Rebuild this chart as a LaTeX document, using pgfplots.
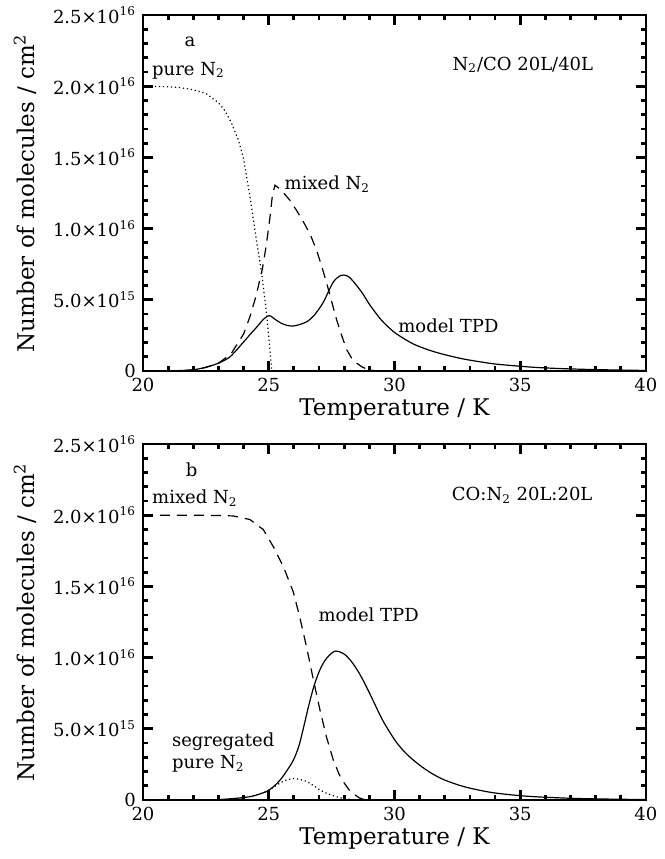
\documentclass[border=0pt]{standalone}
\usepackage{fontspec}
\setmainfont{DejaVu Serif}
\usepackage{pgfplots}
\pgfplotsset{compat=1.18}

% shared look of both panels (1 px of the reference = 0.5pt)
\pgfplotsset{
  tpd/.style={
    scale only axis, width=251.5pt, height=178pt,
    xmin=20, xmax=40, ymin=0, ymax=2.5,
    xtick={20,25,30,35,40}, xticklabels={20,25,30,35,40},
    minor x tick num=4,
    ytick={0,0.5,1,1.5,2,2.5},
    yticklabels={0,5.0×10\textsuperscript{15},1.0×10\textsuperscript{16},1.5×10\textsuperscript{16},2.0×10\textsuperscript{16},2.5×10\textsuperscript{16}},
    minor y tick num=4,
    axis line style={line width=0.8pt},
    tick label style={font=\fontsize{9}{11}\selectfont},
    xlabel={Temperature / K},
    ylabel={Number of molecules / cm\textsuperscript{2}},
    every axis x label/.style={at={(axis description cs:0.5,-0.058)}, anchor=north, font=\fontsize{11.5}{13}\selectfont},
    every axis y label/.style={at={(axis description cs:-0.2346,0.5)}, rotate=90, anchor=center, font=\fontsize{11.5}{13}\selectfont},
    every axis plot/.append style={black, line width=0.6pt, no marks},
  },
}
\tikzset{
  model/.style={solid},
  mixed/.style={dash pattern=on 5pt off 3.5pt},
  pure/.style={dash pattern=on 0.6pt off 1.4pt},
  note/.style={font=\fontsize{9}{11}\selectfont, inner sep=0pt},
}

\begin{document}
\begin{tikzpicture}

% ---- panel a ----
\begin{axis}[tpd, at={(0pt,0pt)}, anchor=south west,
  major tick length=5pt, minor tick length=2.5pt,
  every tick/.append style={black, line width=1.4pt}]
\addplot[pure] coordinates {
(20,2.000) (21,1.997) (21.5,1.99) (22,1.975) (22.5,1.95) (23,1.885) (23.25,1.83)
(23.5,1.75) (23.8,1.62) (24,1.49) (24.25,1.23) (24.5,0.93) (24.72,0.69)
(24.92,0.39) (25.05,0.15) (25.12,0.0)};
\addplot[mixed] coordinates {
(21,0.0) (21.5,0.002) (22,0.008) (22.5,0.025) (23,0.055) (23.5,0.12) (24,0.26)
(24.25,0.38) (24.5,0.53) (24.75,0.72) (24.9,0.88) (25.05,1.08) (25.15,1.24)
(25.25,1.305) (25.5,1.27) (25.84,1.20) (26.1,1.13) (26.37,1.05) (26.65,0.96)
(26.9,0.85) (27.1,0.74) (27.3,0.62) (27.5,0.49) (27.7,0.36) (27.9,0.25)
(28.1,0.15) (28.3,0.09) (28.5,0.055) (28.7,0.03) (28.9,0.014) (29.2,0.003) (29.5,0.0)};
\addplot[model, smooth] coordinates {
(20,0.0) (21,0.001) (21.87,0.007) (22.3,0.018) (22.66,0.035) (23,0.055)
(23.46,0.10) (23.98,0.20) (24.25,0.255) (24.53,0.31) (24.8,0.365) (25.02,0.39)
(25.2,0.37) (25.45,0.34) (25.7,0.322) (25.95,0.316) (26.2,0.325) (26.51,0.346)
(26.8,0.39) (27.16,0.48) (27.55,0.62) (27.8,0.665) (27.99,0.674) (28.2,0.66)
(28.5,0.60) (28.75,0.54) (29.0,0.47) (29.42,0.37) (29.75,0.31) (30.09,0.26)
(30.75,0.19) (31.41,0.145) (32,0.115) (32.73,0.085) (33.4,0.065) (34.08,0.048)
(35.4,0.028) (36.5,0.018) (38,0.01) (40,0.004)};
\node[note, anchor=center] at (axis cs:21.87,2.31) {a};
\node[note, anchor=west] at (axis cs:20.35,2.11) {pure N\textsubscript{2}};
\node[note, anchor=west] at (axis cs:32.3,2.15) {N\textsubscript{2}/CO 20L/40L};
\node[note, anchor=west] at (axis cs:25.62,1.31) {mixed N\textsubscript{2}};
\node[note, anchor=west] at (axis cs:30.14,0.32) {model TPD};
\end{axis}

% ---- panel b ----
\begin{axis}[tpd, at={(0pt,-214.5pt)}, anchor=south west,
  major tick length=5pt, minor tick length=2.5pt,
  every tick/.append style={black, line width=1.4pt}]
\addplot[mixed] coordinates {
(20,2.0) (22,2.0) (23,1.998) (23.59,1.995) (24.25,1.97) (24.78,1.90) (25.18,1.78)
(25.58,1.64) (25.98,1.46) (26.24,1.28) (26.51,1.07) (26.77,0.85) (27.04,0.63)
(27.3,0.44) (27.57,0.28) (27.8,0.18) (27.96,0.13) (28.2,0.07) (28.36,0.045)
(28.6,0.015) (28.8,0.003) (29.0,0.0)};
\addplot[pure] coordinates {
(22,0.0) (23,0.003) (23.5,0.007) (24,0.015) (24.5,0.035) (24.92,0.06) (25.2,0.09)
(25.45,0.12) (25.7,0.14) (25.98,0.152) (26.25,0.145) (26.51,0.13) (26.8,0.10)
(27.04,0.07) (27.3,0.047) (27.57,0.03) (27.8,0.017) (28.1,0.007) (28.5,0.0)};
\addplot[model, smooth] coordinates {
(20,0.0) (22,0.0) (23,0.003) (23.59,0.01) (24.25,0.023) (24.6,0.04) (24.92,0.06)
(25.2,0.095) (25.45,0.14) (25.7,0.20) (25.98,0.28) (26.2,0.38) (26.4,0.52)
(26.6,0.67) (26.8,0.80) (27.0,0.90) (27.2,0.97) (27.4,1.015) (27.66,1.046)
(28.0,1.025) (28.3,0.97) (28.6,0.89) (28.9,0.79) (29.2,0.68) (29.5,0.57)
(29.8,0.48) (30.1,0.40) (30.5,0.32) (31.0,0.245) (31.5,0.185) (32.0,0.14)
(32.7,0.097) (33.4,0.068) (34.1,0.047) (35.4,0.025) (37.4,0.01) (40,0.003)};
\node[note, anchor=center] at (axis cs:21.93,2.32) {b};
\node[note, anchor=west] at (axis cs:20.35,2.12) {mixed N\textsubscript{2}};
\node[note, anchor=west] at (axis cs:32.27,2.14) {CO:N\textsubscript{2} 20L:20L};
\node[note, anchor=west] at (axis cs:26.97,1.30) {model TPD};
\node[note, anchor=west, align=left] at (axis cs:21.14,0.33) {segregated\\pure N\textsubscript{2}};
\end{axis}

% page frame, matching the reference's margins
\path (-71.5pt,185.5pt) rectangle (258pt,-244pt);
\end{tikzpicture}
\end{document}
